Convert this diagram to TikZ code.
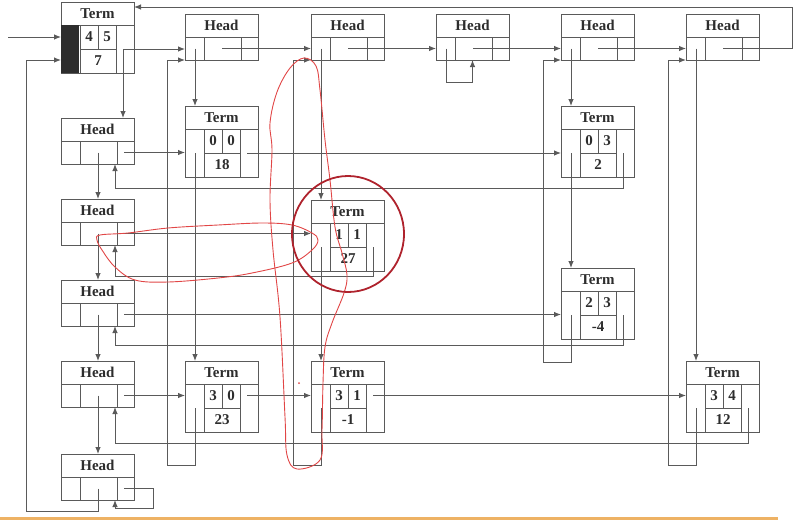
\documentclass[tikz,border=0pt]{standalone}
\usepackage{fontspec}
\setmainfont{Liberation Serif}
\usepackage{xcolor}
\usepackage{tikz}
\usetikzlibrary{arrows.meta,positioning,calc}
\definecolor{linegray}{RGB}{90,90,90}
\definecolor{textgray}{RGB}{45,45,45}
\definecolor{penred}{RGB}{225,70,70}
\definecolor{circred}{RGB}{175,35,45}
\definecolor{rulebar}{RGB}{238,178,100}
\tikzset{
  rectitle/.style={rectangle, draw=linegray, line width=0.9pt, anchor=north west, minimum width=73pt, minimum height=23pt, inner sep=0pt, outer sep=0pt, font=\fontsize{15}{15}\selectfont\bfseries, text=textgray},
  recrow/.style={rectangle, draw=linegray, line width=0.9pt, minimum width=73pt, minimum height=23pt, inner sep=0pt, outer sep=0pt},
  recbody/.style={recrow, minimum height=48pt},
  recline/.style={draw=linegray, line width=0.9pt},
  numtext/.style={inner sep=0pt, font=\fontsize{15}{15}\selectfont\bfseries, text=textgray},
  ptr/.style={draw=linegray, line width=0.9pt, -{Latex[length=7pt,width=5.5pt]}},
  redpen/.style={draw=penred, line width=0.9pt},
  circpen/.style={draw=circred, line width=1.8pt},
}
% Head record: title row + pointer row with three cells
\newcommand{\headrec}[3]{%
  \node[rectitle] (#1) at (#2,#3) {Head};
  \node[recrow, below=0pt of #1] (#1b) {};
  \draw[recline] ($(#1b.north west)+(19,0)$) -- ($(#1b.south west)+(19,0)$)
    ($(#1b.north west)+(56,0)$) -- ($(#1b.south west)+(56,0)$);
  \coordinate (#1L) at ($(#1b.west)+(10,0)$);
  \coordinate (#1M) at ($(#1b.west)+(37,0)$);
  \coordinate (#1R) at ($(#1b.west)+(63,0)$);
  \coordinate (#1U) at ($(#1b.south west)+(54,0)$);
}
% Term record: title row + body with row, col and value cells
\newcommand{\termrec}[6]{%
  \node[rectitle] (#1) at (#2,#3) {Term};
  \node[recbody, below=0pt of #1] (#1b) {};
  \draw[recline] ($(#1b.north west)+(19,0)$) -- ($(#1b.south west)+(19,0)$)
    ($(#1b.north west)+(55,0)$) -- ($(#1b.south west)+(55,0)$)
    ($(#1b.west)+(19,0)$) -- ($(#1b.west)+(55,0)$)
    ($(#1b.north west)+(37,0)$) -- ($(#1b.west)+(37,0)$);
  \node[numtext] (#1i) at ($(#1b.north west)+(28,12)$) {#4};
  \node[numtext] (#1j) at ($(#1b.north west)+(46,12)$) {#5};
  \node[numtext] (#1v) at ($(#1b.north west)+(37,36)$) {#6};
  \coordinate (#1L) at ($(#1b.west)+(10,0)$);
  \coordinate (#1R) at ($(#1b.west)+(62,0)$);
}

\begin{document}
\begin{tikzpicture}[x=1pt, y=-1pt]
  \useasboundingbox (0,0) rectangle (797,523);

  % Matrix head node
  \termrec{m}{61}{2}{4}{5}{7}
  \fill[textgray] (mb.north west) rectangle ($(mb.south west)+(18,0)$);
  \coordinate (src) at (8,37);
  \coordinate (min) at ($(mb.west)+(0,-12)$);
  \coordinate (mwrap) at ($(mb.west)+(0,11)$);
  \coordinate (mback) at ($(m.north east)+(0,5)$);

  % Column heads
  \headrec{c0}{185}{14}
  \headrec{c1}{311}{14}
  \headrec{c2}{436}{14}
  \headrec{c3}{561}{14}
  \headrec{c4}{686}{14}

  % Row heads
  \headrec{r0}{61}{118}
  \headrec{r1}{61}{199}
  \headrec{r2}{61}{280}
  \headrec{r3}{61}{361}
  \headrec{r4}{61}{454}

  % Nonzero terms
  \termrec{t00}{185}{106}{0}{0}{18}
  \termrec{t03}{561}{106}{0}{3}{2}
  \termrec{t11}{311}{200}{1}{1}{27}
  \termrec{t23}{561}{268}{2}{3}{-4}
  \termrec{t30}{185}{361}{3}{0}{23}
  \termrec{t31}{311}{361}{3}{1}{-1}
  \termrec{t34}{686}{361}{3}{4}{12}

  % Entry and matrix head links
  \draw[ptr] (src) -- (min);
  \draw[ptr] (mR) -- (mR -| c0b.west);
  \draw[ptr] (mR) -- (mR |- r0.north);

  % Column head chain
  \draw[ptr] (c0M) -- (c0M -| c1b.west);
  \draw[ptr] (c1M) -- (c1M -| c2b.west);
  \draw[ptr] (c2M) -- (c2M -| c3b.west);
  \draw[ptr] (c3M) -- (c3M -| c4b.west);
  \draw[ptr] (c4M) -- ++(69,0) |- (mback);

  % Row head chain
  \draw[ptr] (r0M) -- (r0M |- r1.north);
  \draw[ptr] (r1M) -- (r1M |- r2.north);
  \draw[ptr] (r2M) -- (r2M |- r3.north);
  \draw[ptr] (r3M) -- (r3M |- r4.north);
  \draw[ptr] (r4M) -- ++(0,23) -- ++(-72,0) |- (mwrap);

  % Columns
  \draw[ptr] (c0L) -- (c0L |- t00.north);
  \draw[ptr] (t00L) -- (t00L |- t30.north);
  \draw[ptr] (t30L) -- ++(0,57) -- ++(-28,0) |- (c0b.south west);
  \draw[ptr] (c1L) -- (c1L |- t11.north);
  \draw[ptr] (t11L) -- (t11L |- t31.north);
  \draw[ptr] (t31L) -- ++(0,57) -- ++(-28,0) |- (c1b.south west);
  \draw[ptr] (c2L) -- ++(0,34) -| (c2b.south);
  \draw[ptr] (c3L) -- (c3L |- t03.north);
  \draw[ptr] (t03L) -- (t03L |- t23.north);
  \draw[ptr] (t23L) -- ++(0,47) -- ++(-28,0) |- (c3b.south west);
  \draw[ptr] (c4L) -- (c4L |- t34.north);
  \draw[ptr] (t34L) -- ++(0,57) -- ++(-28,0) |- (c4b.south west);

  % Rows
  \draw[ptr] (r0R) -- (r0R -| t00b.west);
  \draw[ptr] (t00R) -- (t00R -| t03b.west);
  \draw[ptr] (t03R) -- ++(0,35) -| (r0U);
  \draw[ptr] (r1R) -- (r1R -| t11b.west);
  \draw[ptr] (t11R) -- ++(0,29) -| (r1U);
  \draw[ptr] (r2R) -- (r2R -| t23b.west);
  \draw[ptr] (t23R) -- ++(0,30) -| (r2U);
  \draw[ptr] (r3R) -- (r3R -| t30b.west);
  \draw[ptr] (t30R |- r3R) -- (r3R -| t31b.west);
  \draw[ptr] (t31R |- r3R) -- (r3R -| t34b.west);
  \draw[ptr] (t34R) -- ++(0,35) -| (r3U);
  \draw[ptr] (r4R) -- ++(29,0) -- ++(0,20) -| (r4U);

  % Hand-drawn marks
  \draw[redpen] plot[smooth cycle, tension=0.6] coordinates {
    (304,58) (316,66) (320,90) (325,140) (330,180) (335,227) (342,253)
    (347,275) (344,293) (332,323) (325,347) (323,383) (322,430) (320,460)
    (297,469) (287,455) (285,417) (280,317) (273,250) (270,200) (272,150)
    (270,123) (277,92) (290,68)};
  \draw[redpen] plot[smooth cycle, tension=0.6] coordinates {
    (100,235) (128,233) (168,228) (218,225) (262,223) (292,225) (312,233)
    (318,240) (312,250) (292,263) (252,273) (218,278) (168,282) (135,280)
    (115,267) (102,250) (97,240)};
  \draw[circpen] (348,234) ellipse [x radius=56pt, y radius=58pt];
  \fill[penred] (299,383) circle [radius=1pt];

  % Bottom rule
  \draw[rulebar, line width=3pt] (0,518) -- (778,518);
\end{tikzpicture}
\end{document}
